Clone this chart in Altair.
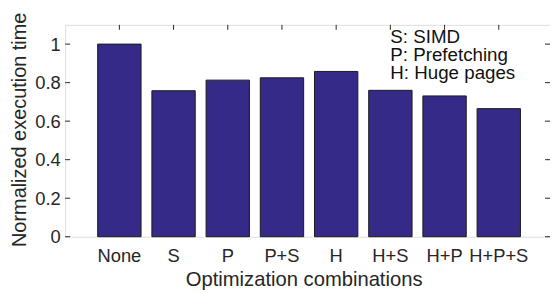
import altair as alt
import pandas as pd

categories = ["None", "S", "P", "P+S", "H", "H+S", "H+P", "H+P+S"]
times = [1.0, 0.758, 0.813, 0.825, 0.858, 0.760, 0.731, 0.665]
y_ticks = [0, 0.2, 0.4, 0.6, 0.8, 1]
legend_lines = ["S: SIMD", "P: Prefetching", "H: Huge pages"]

W, H = 492, 215
FONT = "Liberation Sans"
AX = "#262626"
BAR = "#352A87"

df = pd.DataFrame({"combo": categories, "time": times})
ydf = pd.DataFrame({"v": y_ticks})
one = pd.DataFrame({"k": [0]})

xscale = alt.Scale(domain=categories, paddingInner=0.2, paddingOuter=0.5727, align=0.524)
yscale = alt.Scale(domain=[0, 1.1], nice=False, zero=False)

x_axis = alt.Axis(
    title="Optimization combinations", labelAngle=0, ticks=False, domain=False, grid=False,
    labelPadding=10, labelFontSize=18.6, labelFont=FONT, labelColor=AX,
    titleFontSize=20.5, titleFont=FONT, titleColor=AX, titleFontWeight="normal",
    titleX=242, titleY=49, titleBaseline="alphabetic",
)
y_axis = alt.Axis(
    title="Normalized execution time", values=y_ticks, format="~g", ticks=False, domain=False,
    grid=False, labelPadding=5, labelFontSize=18.6, labelFont=FONT, labelColor=AX,
    titleFontSize=20.2, titleFont=FONT, titleColor=AX, titleFontWeight="normal",
    titleX=-40, titleY=106, titleBaseline="alphabetic",
)

bars = alt.Chart(df).mark_bar(color=BAR, stroke="#1a1a1a", strokeWidth=1).encode(
    x=alt.X("combo:N", scale=xscale, sort=categories, axis=x_axis),
    y=alt.Y("time:Q", scale=yscale, axis=y_axis),
)

xt = alt.X("combo:N", scale=xscale, sort=categories, axis=None)
yt = alt.Y("v:Q", scale=yscale, axis=None)

top_ticks = alt.Chart(df).mark_rule(color=AX, strokeWidth=1).encode(x=xt, y=alt.value(0), y2=alt.value(5))
left_ticks = alt.Chart(ydf).mark_rule(color=AX, strokeWidth=1).encode(y=yt, x=alt.value(0), x2=alt.value(5))
right_ticks = alt.Chart(ydf).mark_rule(color=AX, strokeWidth=1).encode(y=yt, x=alt.value(W - 5), x2=alt.value(W))

legend = alt.Chart(one).mark_text(
    text=legend_lines, font=FONT, fontSize=19, align="left", baseline="alphabetic",
    lineHeight=18.5, color="#111111",
).encode(x=alt.value(330), y=alt.value(18))

chart = alt.layer(bars, top_ticks, left_ticks, right_ticks, legend).resolve_axis(
    x="independent", y="independent"
).properties(
    width=W, height=H,
    padding={"left": 58, "top": 15, "right": 0, "bottom": 55},
    autosize=alt.AutoSizeParams(type="none"),
).configure_view(stroke=AX, strokeWidth=1).configure(background="white")

chart.save("out.html", embed_options={"renderer": "svg", "actions": False})
